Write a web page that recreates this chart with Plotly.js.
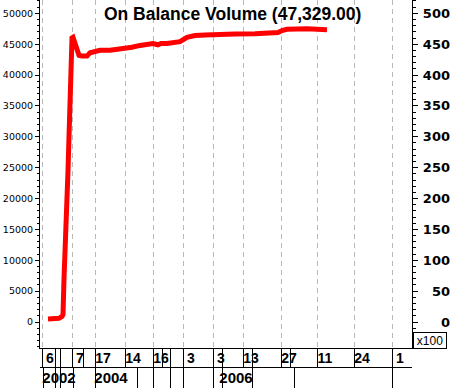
<!DOCTYPE html>
<html>
<head>
<meta charset="utf-8">
<script src="https://cdn.plot.ly/plotly-3.0.1.min.js"></script>
<style>html,body{margin:0;padding:0;background:#fff;}#chart{width:450px;height:388px;}</style>
</head>
<body>
<div id="chart"></div>
<script>
// ---- data (bar index along the time axis, OBV value) ----
const barIndex = [8, 14, 19, 22, 23, 24, 25, 26, 27, 28, 29, 30, 31, 32, 33, 35, 37, 39, 42, 47, 50, 55, 60, 70, 77, 83, 92, 100, 108, 113, 118, 121, 127, 133, 140, 147, 155, 165, 175, 195, 215, 230, 238, 242, 247, 267, 277, 287];
const obvValues = [500, 500, 600, 900, 1200, 7000, 10500, 15500, 19500, 24500, 30000, 36000, 42000, 46000, 46100, 45200, 44000, 43200, 43100, 43100, 43600, 43900, 44000, 44000, 44100, 44300, 44500, 44800, 45000, 45100, 44900, 45100, 45100, 45300, 45400, 46100, 46400, 46500, 46600, 46650, 46700, 46800, 46900, 47200, 47400, 47500, 47450, 47329];

// date axis: bars where each labelled date starts
const dateTickBars = [2, 32, 55, 85, 113, 143, 173, 203, 241, 277, 314, 352];
const dateLabels = ["6", "7", "17", "14", "16", "3", "3", "13", "27", "11", "24", "1"];
const dateSepBars = [15, 20, 43, 122, 130, 182, 212, 250];
const yearSepBars = [3, 15, 20, 33, 55, 97, 113, 130, 143, 173, 182, 212, 254, 352];
const yearTickBars = [3, 55, 180];
const yearLabels = ["2002", "2004", "2006"];

const yMin = -4210, yMax = 52155;
const scaleDiv = 100;

const traces = [
  {x: barIndex, y: obvValues, type: 'scatter', mode: 'lines',
   line: {color: '#ff0000', width: 5}, hoverinfo: 'skip', xaxis: 'x', yaxis: 'y'},
  {x: [], y: [], type: 'scatter', xaxis: 'x2', yaxis: 'y', hoverinfo: 'skip'},
  {x: [], y: [], type: 'scatter', xaxis: 'x3', yaxis: 'y', hoverinfo: 'skip'},
  {x: [], y: [], type: 'scatter', xaxis: 'x4', yaxis: 'y', hoverinfo: 'skip'},
  {x: [], y: [], type: 'scatter', xaxis: 'x', yaxis: 'y2', hoverinfo: 'skip'},
  {x: [], y: [], type: 'scatter', xaxis: 'x', yaxis: 'y3', hoverinfo: 'skip'}
];

const xDom = [40/450, 412/450];
const xr = [0, 372];
const base = {range: xr, fixedrange: true, zeroline: false};

const layout = {
  width: 450, height: 388,
  margin: {l: 0, r: 0, t: 0, b: 0},
  paper_bgcolor: '#ffffff', plot_bgcolor: '#ffffff',
  showlegend: false,
  title: {text: 'On Balance Volume (47,329.00)',
          font: {family: 'Liberation Sans, Arial, sans-serif', size: 17.5, color: '#000', weight: 'bold'},
          x: 0.517, xanchor: 'center', xref: 'container', y: 0.965, yanchor: 'middle', yref: 'container'},
  xaxis: Object.assign({}, base, {
    domain: xDom, anchor: 'y',
    showline: true, linecolor: '#000', linewidth: 1,
    showgrid: true, gridcolor: '#b8b8b8', griddash: '5px,4px', gridwidth: 1,
    tickmode: 'array', tickvals: dateTickBars,
    ticks: 'outside', ticklen: 19, tickcolor: '#000', tickwidth: 1,
    showticklabels: false,
    minor: {tickmode: 'array', tickvals: dateSepBars, ticks: 'outside', ticklen: 19, tickcolor: '#000', tickwidth: 1, showgrid: false}
  }),
  xaxis2: Object.assign({}, base, {
    overlaying: 'x', anchor: 'y', showline: false, showgrid: false,
    tickmode: 'array', tickvals: dateTickBars, ticktext: dateLabels,
    ticks: '', ticklabelshift: 8, ticklabelstandoff: 0,
    tickfont: {family: 'Liberation Sans, Arial, sans-serif', size: 14, color: '#000', weight: 'bold'}
  }),
  xaxis3: Object.assign({}, base, {
    overlaying: 'x', anchor: 'free', position: 21/388, side: 'bottom',
    showline: true, linecolor: '#000', linewidth: 1, showgrid: false,
    tickmode: 'array', tickvals: yearSepBars,
    ticks: 'outside', ticklen: 21, tickcolor: '#000', tickwidth: 1,
    showticklabels: false
  }),
  xaxis4: Object.assign({}, base, {
    overlaying: 'x', anchor: 'free', position: 21/388, side: 'bottom',
    showline: false, showgrid: false,
    tickmode: 'array', tickvals: yearTickBars, ticktext: yearLabels,
    ticks: '', ticklabelshift: 16, ticklabelstandoff: 0,
    tickfont: {family: 'Liberation Sans, Arial, sans-serif', size: 15, color: '#000', weight: 'bold'}
  }),
  yaxis: {
    domain: [40/388, 1], anchor: 'x', range: [yMin, yMax], fixedrange: true,
    showline: true, linecolor: '#000', linewidth: 1,
    showgrid: false, zeroline: false,
    tickmode: 'linear', tick0: 0, dtick: 5000, tickformat: 'd',
    ticks: 'outside', ticklen: 4, tickcolor: '#000',
    minor: {dtick: 1000, tick0: 0, ticks: 'outside', ticklen: 2, tickcolor: '#000', showgrid: false},
    tickfont: {family: 'DejaVu Sans, sans-serif', size: 9.5, color: '#000'}
  },
  yaxis2: {
    overlaying: 'y', side: 'right', anchor: 'x', range: [yMin/scaleDiv, yMax/scaleDiv], fixedrange: true,
    showline: true, linecolor: '#000', linewidth: 1,
    showgrid: false, zeroline: false,
    tickmode: 'linear', tick0: 0, dtick: 50,
    ticks: 'outside', ticklen: 5, tickcolor: '#000',
    minor: {dtick: 10, tick0: 0, ticks: 'outside', ticklen: 3, tickcolor: '#000', showgrid: false},
    showticklabels: false
  },
  yaxis3: {
    overlaying: 'y', side: 'left', anchor: 'free', position: 1, range: [yMin/scaleDiv, yMax/scaleDiv], fixedrange: true,
    showline: false, showgrid: false, zeroline: false,
    tickmode: 'linear', tick0: 0, dtick: 50, ticks: '',
    tickfont: {family: 'DejaVu Sans, sans-serif', size: 13, color: '#000', weight: 'bold'}
  },
  annotations: [
    {text: 'x100', xref: 'paper', yref: 'paper', x: 430/450, y: 1 - 340/388,
     xanchor: 'center', yanchor: 'middle', showarrow: false,
     font: {family: 'Liberation Sans, Arial, sans-serif', size: 12, color: '#000'},
     bordercolor: '#000', borderwidth: 1, borderpad: 1, bgcolor: '#fff', width: 30, height: 13}
  ]
};

Plotly.newPlot('chart', traces, layout, {staticPlot: true, displayModeBar: false});
</script>
</body>
</html>
